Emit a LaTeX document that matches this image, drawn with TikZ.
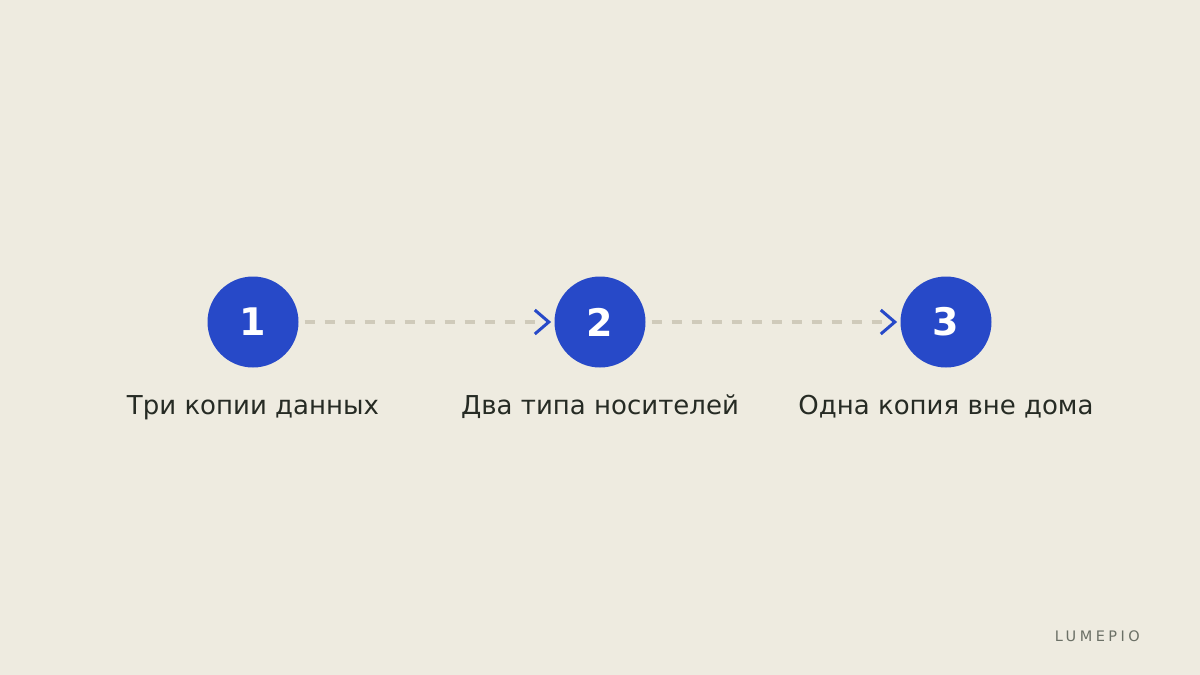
\documentclass[tikz,border=0pt]{standalone}
\usepackage{fontspec}
\setmainfont{DejaVu Sans}
\newfontfamily\spaced[LetterSpace=24]{DejaVu Sans}
\definecolor{bg}{HTML}{EEEBE0}
\definecolor{blu}{HTML}{2749C8}
\definecolor{dsh}{HTML}{CFCABA}
\definecolor{txt}{HTML}{262B24}
\definecolor{mark}{HTML}{6B7066}
\tikzset{
  stepcirc/.style={circle,fill=blu,minimum size=91pt,inner sep=0pt,text=white,font=\fontsize{38}{38}\selectfont\bfseries},
  steplabel/.style={text=txt,font=\fontsize{26}{28}\selectfont,anchor=base},
  link/.style={dsh,line width=4pt,dash pattern=on 10pt off 10pt},
  chev/.style={blu,line width=3pt,line cap=butt,line join=miter},
}
\begin{document}
\begin{tikzpicture}[x=1pt,y=-1pt]
\fill[bg] (0,0) rectangle (1200,675);
\useasboundingbox (0,0) rectangle (1200,675);
\node[stepcirc] (c1) at (253,322) {\raisebox{-1pt}{1}};
\node[stepcirc] (c2) at (600,322) {\raisebox{-1pt}{2}};
\node[stepcirc] (c3) at (946,322) {\raisebox{-1pt}{3}};
\node[steplabel] (l1) at (253,414) {Три копии данных};
\node[steplabel] (l2) at (600,414) {Два типа носителей};
\node[steplabel] (l3) at (946,414) {Одна копия вне дома};
\coordinate (a1) at ([xshift=-5.5pt]c2.west);
\coordinate (a2) at ([xshift=-5.5pt]c3.west);
\draw[link] ([xshift=6pt]c1.east) -- ([xshift=-8pt]a1);
\draw[link] ([xshift=6pt]c2.east) -- ([xshift=-8pt]a2);
\draw[chev] ([shift={(-14,-12)}]a1) -- (a1) -- ([shift={(-14,12)}]a1);
\draw[chev] ([shift={(-14,-12)}]a2) -- (a2) -- ([shift={(-14,12)}]a2);
\node[text=mark,font=\spaced\fontsize{14.5}{14.5}\selectfont,anchor=base east,inner sep=0pt] (logo) at (1140,641) {LUMEPIO};
\end{tikzpicture}
\end{document}
